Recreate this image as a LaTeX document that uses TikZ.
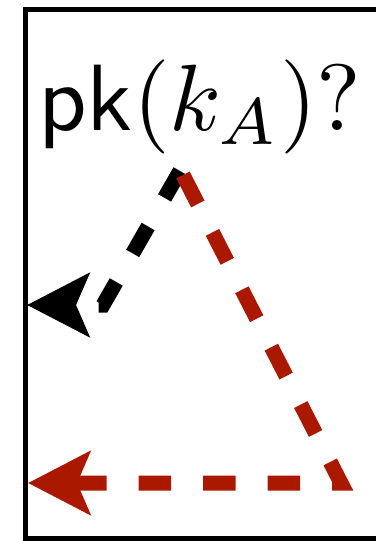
\documentclass[tikz,border=0pt]{standalone}
\usetikzlibrary{arrows.meta}

\definecolor{darkred}{RGB}{170,24,0}

\tikzset{
  frame/.style={line width=5pt},
  guess/.style={line width=15pt, dash pattern=on 31pt off 33pt,
    -{Stealth[length=62pt, width=63pt, inset=13pt]}},
  route/.style={guess, darkred, dash pattern=on 32.5pt off 32pt}
}

\begin{document}
\begin{tikzpicture}[x=1pt, y=-1pt]
    \useasboundingbox (0,0) rectangle (375,541);
    \draw[frame] (400,9.5) -- (25.5,9.5) -- (25.5,538.5) -- (400,538.5);

    \node[anchor=base west, inner sep=0pt, scale=9.42] (query) at (36.4,130) {{\sffamily pk}$(k_A)?$};

    \coordinate (apexB) at (180,171);
    \coordinate (bend) at (103,305);
    \coordinate (leftB) at (27,305);
    \coordinate (apexR) at (183,175);
    \coordinate (corner) at (341,483);
    \coordinate (leftR) at (28,483);

    \draw[guess] (apexB) -- (bend) -- (leftB);
    \draw[route] (apexR) -- (corner) -- (leftR);
\end{tikzpicture}
\end{document}
